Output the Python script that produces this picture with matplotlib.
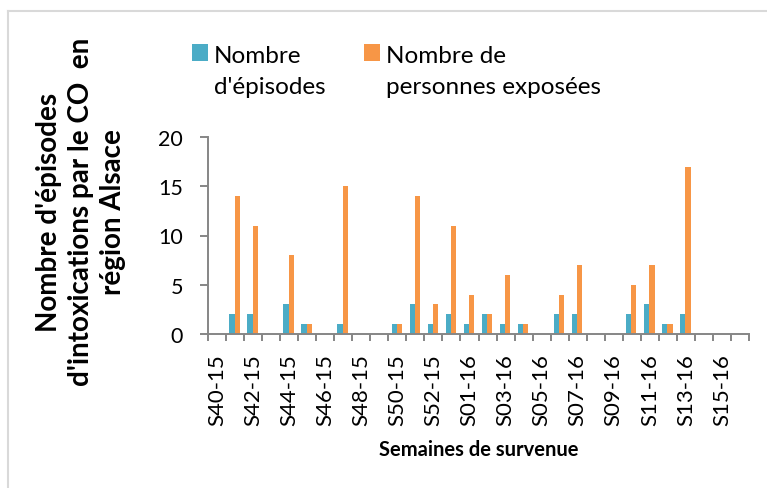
import numpy as np
import matplotlib.pyplot as plt
from matplotlib.lines import Line2D
from matplotlib.patches import Rectangle
from matplotlib.container import BarContainer
from matplotlib.legend_handler import HandlerPatch

plt.rcParams['font.family'] = ['Lato', 'DejaVu Sans']

# weekly counts, CO poisoning in Alsace, weeks 40-2015 to 16-2016
weeks = ['S40-15', 'S41-15', 'S42-15', 'S43-15', 'S44-15', 'S45-15', 'S46-15',
         'S47-15', 'S48-15', 'S49-15', 'S50-15', 'S51-15', 'S52-15', 'S53-15',
         'S01-16', 'S02-16', 'S03-16', 'S04-16', 'S05-16', 'S06-16', 'S07-16',
         'S08-16', 'S09-16', 'S10-16', 'S11-16', 'S12-16', 'S13-16', 'S14-16',
         'S15-16', 'S16-16']
episodes = [0, 2, 2, 0, 3, 1, 0, 1, 0, 0, 1, 3, 1, 2, 1,
            2, 1, 1, 0, 2, 2, 0, 0, 2, 3, 1, 2, 0, 0, 0]
exposed = [0, 14, 11, 0, 8, 1, 0, 15, 0, 0, 1, 14, 3, 11, 4,
           2, 6, 1, 0, 4, 7, 0, 0, 5, 7, 1, 17, 0, 0, 0]

blue = '#4BACC6'
orange = '#F79646'
axis_grey = '#868686'

W, H = 767, 489
fig = plt.figure(figsize=(W / 100, H / 100), dpi=100)
ax = fig.add_axes([208 / W, 1 - 335 / H, (749 - 208) / W, (335 - 138) / H])

x = np.arange(len(weeks))
w = 0.29
ax.bar(x - w / 2 - 0.03, episodes, width=w, color=blue, label="Nombre\nd'épisodes")
ax.bar(x + w / 2 - 0.03, exposed, width=w, color=orange,
       label='Nombre de\npersonnes exposées')

ax.set_xlim(-0.5, len(weeks) - 0.5)
ax.set_ylim(0, 20)
ax.set_yticks([0, 5, 10, 15, 20])

# labels every other week, tick marks between categories
ax.set_xticks(x[::2])
ax.set_xticklabels(weeks[::2], rotation=90, fontsize=16)
ax.set_xticks(np.arange(len(weeks) + 1) - 0.5, minor=True)
ax.tick_params(axis='x', which='major', length=0, pad=14)
ax.tick_params(axis='x', which='minor', length=5, width=1.4, color=axis_grey,
               direction='out')
ax.tick_params(axis='y', length=6, width=1.4, color=axis_grey, pad=12, labelsize=15.5)

for s in ['top', 'right']:
    ax.spines[s].set_visible(False)
for s in ['left', 'bottom']:
    ax.spines[s].set_color(axis_grey)
    ax.spines[s].set_linewidth(1.4)

ax.set_xlabel('Semaines de survenue', fontsize=14.5, fontweight='bold', labelpad=10)
fig.text(81 / W, 1 - 212 / H,
         "Nombre d'épisodes\nd'intoxications par le CO  en\nrégion Alsace",
         rotation=90, ha='center', va='center', multialignment='center',
         fontsize=20, fontweight='bold', linespacing=1.3)


# legend square sits next to the first line of the two-line label
def first_line_square(legend, orig_handle, xdescent, ydescent, width, height, fontsize):
    return Rectangle((-xdescent, -ydescent + 0.74 * fontsize), width, height)


def from_first_bar(legend_patch, container):
    legend_patch.update_from(container.patches[0])


square = HandlerPatch(patch_func=first_line_square, update_func=from_first_bar)
leg = ax.legend(loc='upper left', bbox_to_anchor=(182 / W, 1 - 36 / H),
                bbox_transform=fig.transFigure, ncol=2, frameon=False, fontsize=17.5,
                handlelength=0.65, handleheight=0.7, handletextpad=0.25,
                columnspacing=1.6, borderaxespad=0,
                handler_map={BarContainer: square})
for t in leg.get_texts():
    t.set_linespacing(1.6)

# light chart frame (left and top edges)
fig.add_artist(Line2D([8 / W, 8 / W], [0, 1 - 12 / H], transform=fig.transFigure,
                      color='#d9d9d9', lw=1.5))
fig.add_artist(Line2D([8 / W, 1], [1 - 12 / H, 1 - 12 / H], transform=fig.transFigure,
                      color='#d9d9d9', lw=1.5))

fig.savefig('out.png', dpi=100)
